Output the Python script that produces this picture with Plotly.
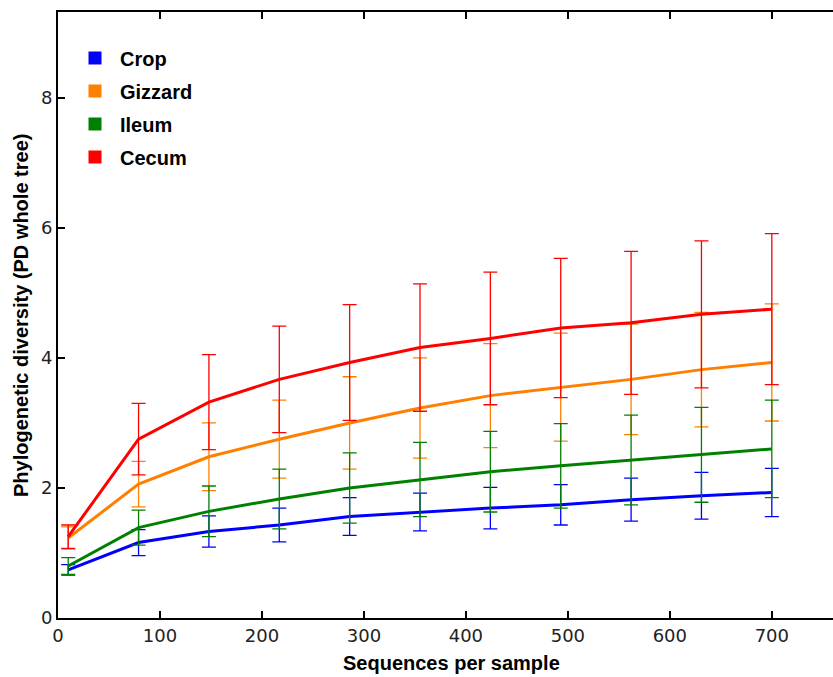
import plotly.graph_objects as go

seqs = [10, 79, 148, 217, 286, 355, 424, 493, 562, 631, 700]

crop_mean = [0.74, 1.16, 1.33, 1.43, 1.56, 1.63, 1.69, 1.74, 1.82, 1.88, 1.93]
crop_err = [0.08, 0.20, 0.24, 0.26, 0.29, 0.29, 0.32, 0.31, 0.33, 0.36, 0.37]

gizzard_mean = [1.23, 2.06, 2.48, 2.75, 3.00, 3.23, 3.42, 3.55, 3.67, 3.82, 3.93]
gizzard_err = [0.17, 0.35, 0.52, 0.60, 0.71, 0.77, 0.80, 0.83, 0.85, 0.88, 0.90]

ileum_mean = [0.80, 1.39, 1.64, 1.83, 2.00, 2.13, 2.25, 2.34, 2.43, 2.51, 2.60]
ileum_err = [0.13, 0.27, 0.39, 0.46, 0.54, 0.57, 0.62, 0.65, 0.69, 0.73, 0.75]

cecum_mean = [1.25, 2.75, 3.32, 3.67, 3.93, 4.16, 4.30, 4.46, 4.54, 4.67, 4.75]
cecum_err = [0.18, 0.55, 0.73, 0.82, 0.89, 0.98, 1.02, 1.07, 1.10, 1.13, 1.16]

names = ["Crop", "Gizzard", "Ileum", "Cecum"]
colors = ["#0000FF", "#FF8000", "#008000", "#FF0000"]
means = [crop_mean, gizzard_mean, ileum_mean, cecum_mean]
errs = [crop_err, gizzard_err, ileum_err, cecum_err]

W, H = 833, 677
L, R, T, B = 58, 0, 12, 59

fig = go.Figure()
for name, col, m, e in zip(names, colors, means, errs):
    fig.add_trace(go.Scatter(
        x=seqs, y=m, mode="lines", name=name, showlegend=False,
        line=dict(color=col, width=3),
        error_y=dict(type="data", array=e, visible=True, color=col,
                     thickness=1.3, width=7),
    ))
for name, col in zip(names, colors):
    fig.add_trace(go.Scatter(
        x=[None], y=[None], mode="markers", name=name, legendgroup=name,
        marker=dict(symbol="square", size=13, color=col),
    ))

axis_common = dict(
    showline=True, linecolor="black", linewidth=2,
    ticks="inside", ticklen=7, tickwidth=1.5, tickcolor="black",
    showgrid=False, zeroline=False,
    tickfont=dict(family="DejaVu Sans", size=18, color="#222"),
)

fig.update_layout(
    width=W, height=H,
    margin=dict(l=L, r=R, t=T, b=B),
    plot_bgcolor="white", paper_bgcolor="white",
    xaxis=dict(range=[0, 760], tickvals=[0, 100, 200, 300, 400, 500, 600, 700],
               mirror="ticks", **axis_common),
    yaxis=dict(range=[0, 9.32], tickvals=[0, 2, 4, 6, 8], mirror=False, **axis_common),
    legend=dict(
        x=(70 - L) / (W - L - R), y=1 - (38.5 - T) / (H - T - B),
        xanchor="left", yanchor="top", itemwidth=40,
        font=dict(family="Liberation Sans", size=20, color="black", weight="bold"),
        bgcolor="rgba(0,0,0,0)", borderwidth=0, tracegroupgap=4,
    ),
    showlegend=True,
)

fig.add_annotation(
    text="<b>Sequences per sample</b>", xref="paper", yref="paper",
    x=(451 - L) / (W - L - R), y=-(663 - (H - B)) / (H - T - B),
    xanchor="center", yanchor="middle", showarrow=False,
    font=dict(family="Liberation Sans", size=20, color="black"),
)
fig.add_annotation(
    text="<b>Phylogenetic diversity (PD whole tree)</b>", xref="paper", yref="paper",
    x=-(L - 21) / (W - L - R), y=1 - (316 - T) / (H - T - B),
    xanchor="center", yanchor="middle", showarrow=False, textangle=-90,
    font=dict(family="Liberation Sans", size=20, color="black"),
)

fig.write_html("out.html")
